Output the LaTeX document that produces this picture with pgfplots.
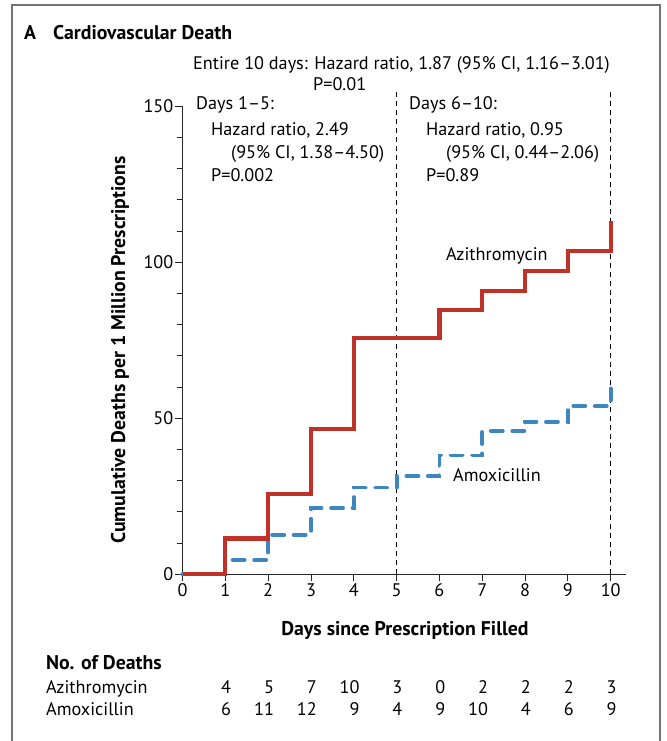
\documentclass[border=0pt]{standalone}
\usepackage{pgfplots}
\pgfplotsset{compat=1.18}
\usepackage{fontspec}
\setmainfont{PT Sans}
\definecolor{azi}{RGB}{192,50,40}
\definecolor{amox}{RGB}{62,134,192}
\newcommand{\fs}{\fontsize{18.2bp}{21bp}\selectfont}
\newcommand{\fb}{\fontsize{19.8bp}{23bp}\selectfont\bfseries}
\begin{document}
\begin{tikzpicture}
\useasboundingbox (0bp,0bp) rectangle (667bp,741bp);
\fill[white] (0bp,0bp) rectangle (667bp,741bp);
\draw[black!55, line width=1.3bp] (12bp,-2bp) -- (12bp,736bp) -- (660bp,736bp) -- (660bp,-2bp);
\begin{axis}[
  at={(182.5bp,166.7bp)}, anchor=south west,
  x=42.82bp, y=3.12bp,
  xmin=0, xmax=10.35, ymin=0, ymax=150,
  axis x line*=bottom, axis y line*=left,
  axis line style={-, black!85, line width=0.9bp},
  xtick={0,...,10},
  ytick={0,50,100,150},
  minor ytick={10,20,30,40,60,70,80,90,110,120,130,140},
  xtick align=outside, ytick align=outside,
  major tick length=7bp,
  minor tick length=6bp,
  every tick/.style={black, line width=0.9bp},
  every minor tick/.style={black, line width=0.9bp},
  tick label style={font=\fs},
  xticklabel style={inner sep=2bp},
  yticklabel style={inner sep=2bp},
  /pgf/number format/assume math mode=true,
  clip=false,
]
% tick marks drawn explicitly so that they always show
\pgfplotsinvokeforeach{0,1,2,3,4,5,6,7,8,9,10}{
  \draw[black!85, line width=0.9bp] (axis cs:#1,0) -- ++(0bp,-6.5bp);
}
\pgfplotsinvokeforeach{0,50,100,150}{
  \draw[black!85, line width=0.9bp] (axis cs:0,#1) -- ++(-8bp,0bp);
}
\pgfplotsinvokeforeach{10,20,30,40,60,70,80,90,110,120,130,140}{
  \draw[black!85, line width=0.9bp] (axis cs:0,#1) -- ++(-6bp,0bp);
}
\draw[black, line width=0.8bp, dash pattern=on 5bp off 4bp] (axis cs:5,0) -- (axis cs:5,155);
\draw[black, line width=0.8bp, dash pattern=on 5bp off 4bp] (axis cs:10,0) -- (axis cs:10,155);
\addplot[amox, line width=3.8bp, dash pattern=on 12bp off 9.5bp, line cap=round, const plot, mark=none]
  coordinates {(0,0) (1,4.6) (2,12.6) (3,21.3) (4,27.8) (5,31.6) (6,38.1) (7,45.9) (8,48.9) (9,53.9) (10,61.2)};
\addplot[azi, line width=4.2bp, const plot, mark=none]
  coordinates {(0,0) (1,11.5) (2,25.8) (3,46.6) (4,75.8) (5,75.8) (6,84.7) (7,90.9) (8,97.2) (9,103.7) (10,113.3)};
\end{axis}
\begin{scope}[x=1bp,y=1bp]
% titles and annotations
\node[anchor=base west, inner sep=0, font=\fb] at (24,701) {A};
\node[anchor=base west, inner sep=0, font=\fb] at (53,701) {Cardiovascular Death};
\node[anchor=base west, inner sep=0, font=\fs] at (193,671) {Entire 10 days: Hazard ratio, 1.87 (95\% CI, 1.16–3.01)};
\node[anchor=base west, inner sep=0, font=\fs] at (313,650) {P=0.01};
\node[anchor=base west, inner sep=0, font=\fs] at (196,631) {Days 1–5:};
\node[anchor=base west, inner sep=0, font=\fs] at (211,605) {Hazard ratio, 2.49};
\node[anchor=base west, inner sep=0, font=\fs] at (231,582) {(95\% CI, 1.38–4.50)};
\node[anchor=base west, inner sep=0, font=\fs] at (211,559) {P=0.002};
\node[anchor=base west, inner sep=0, font=\fs] at (409,631) {Days 6–10:};
\node[anchor=base west, inner sep=0, font=\fs] at (426,605) {Hazard ratio, 0.95};
\node[anchor=base west, inner sep=0, font=\fs] at (446,582) {(95\% CI, 0.44–2.06)};
\node[anchor=base west, inner sep=0, font=\fs] at (426,559) {P=0.89};
\node[anchor=base west, inner sep=0, font=\fs] at (446,480) {Azithromycin};
\node[anchor=base west, inner sep=0, font=\fs] at (453,260) {Amoxicillin};
\node[rotate=90, inner sep=0, font=\fb] at (120,391) {Cumulative Deaths per 1 Million Prescriptions};
\node[inner sep=0, font=\fb] at (405,111) {Days since Prescription Filled};
% number of deaths table
\node[anchor=base west, inner sep=0, font=\fb] at (46,72) {No. of Deaths};
\node[anchor=base west, inner sep=0, font=\fs] at (46,48) {Azithromycin};
\node[anchor=base west, inner sep=0, font=\fs] at (46,26) {Amoxicillin};
\foreach \v [count=\k] in {4,5,7,10,3,0,2,2,2,3}
  \node[anchor=base east, inner sep=0, font=\fs] at ({182.5+42.82*\k+6},48) {\v};
\foreach \v [count=\k] in {6,11,12,9,4,9,10,4,6,9}
  \node[anchor=base east, inner sep=0, font=\fs] at ({182.5+42.82*\k+6},26) {\v};
\end{scope}
\end{tikzpicture}
\end{document}
